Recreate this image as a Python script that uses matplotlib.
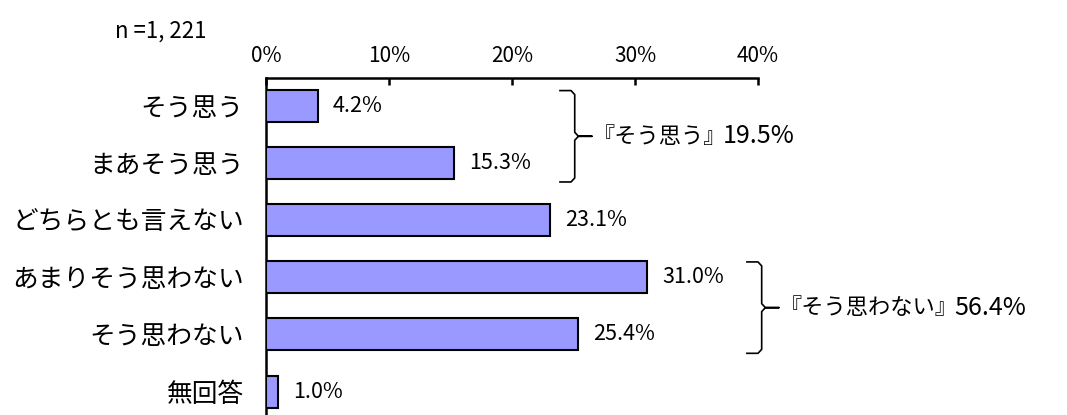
import numpy as np
import matplotlib.pyplot as plt

plt.rcParams['font.family'] = ['Noto Sans CJK JP', 'DejaVu Sans']

# survey answers, top to bottom
categories = ['そう思う', 'まあそう思う', 'どちらとも言えない', 'あまりそう思わない', 'そう思わない', '無回答']
values = [4.2, 15.3, 23.1, 31.0, 25.4, 1.0]
n_label = 'n =1, 221'

# bracket groups: (first index, last index, label, total, x position in %)
groups = [
    (0, 1, '『そう思う』', 19.5, 25.1),
    (3, 4, '『そう思わない』', 56.4, 40.3),
]

fig = plt.figure(figsize=(10.67, 4.15), dpi=100)
ax = fig.add_axes([0.2493, 0.0, 0.4611, 0.812])

y = np.arange(len(categories))
ax.barh(y, values, height=0.56, color='#9999FF', edgecolor='black',
        linewidth=1.5, zorder=3)

for yi, v in zip(y, values):
    ax.text(v + 1.2, yi, f'{v:.1f}%', va='center', ha='left', fontsize=15.5)

ax.set_xlim(0, 40)
ax.set_ylim(5.41, -0.49)
ax.set_xticks(np.arange(0, 41, 10))
ax.set_xticklabels([f'{t}%' for t in range(0, 41, 10)])
ax.xaxis.tick_top()
ax.tick_params(axis='x', direction='in', length=5, width=1.8, labelsize=15, pad=8)
ax.set_yticks(y)
ax.set_yticklabels(categories, fontsize=18.5)
ax.tick_params(axis='y', length=0, pad=16)

for side in ['right', 'bottom']:
    ax.spines[side].set_visible(False)
for side in ['top', 'left']:
    ax.spines[side].set_linewidth(1.8)

# braces
for i0, i1, label, total, bx in groups:
    top = i0 - 0.27
    bot = i1 + 0.33
    mid = (top + bot) / 2
    w = 1.2
    tick = 1.4
    c = 0.07
    xs = [bx - w, bx - 0.3, bx, bx, bx + 0.3, bx + tick, bx + 0.3, bx, bx, bx - 0.3, bx - w]
    ys = [top, top, top + c, mid - c, mid, mid, mid, mid + c, bot - c, bot, bot]
    ax.plot(xs, ys, color='black', linewidth=1.2, clip_on=False, solid_joinstyle='round')
    t = ax.text(bx + tick + 0.1, mid, label, va='center', ha='left', fontsize=16)
    ax.annotate(f'{total:.1f}%', xy=(1, 0.5), xycoords=t, xytext=(-3, 0),
                textcoords='offset points', va='center', ha='left', fontsize=18)

fig.text(0.108, 0.925, n_label, fontsize=16, va='center', ha='left')

fig.savefig('out.png', dpi=100)
